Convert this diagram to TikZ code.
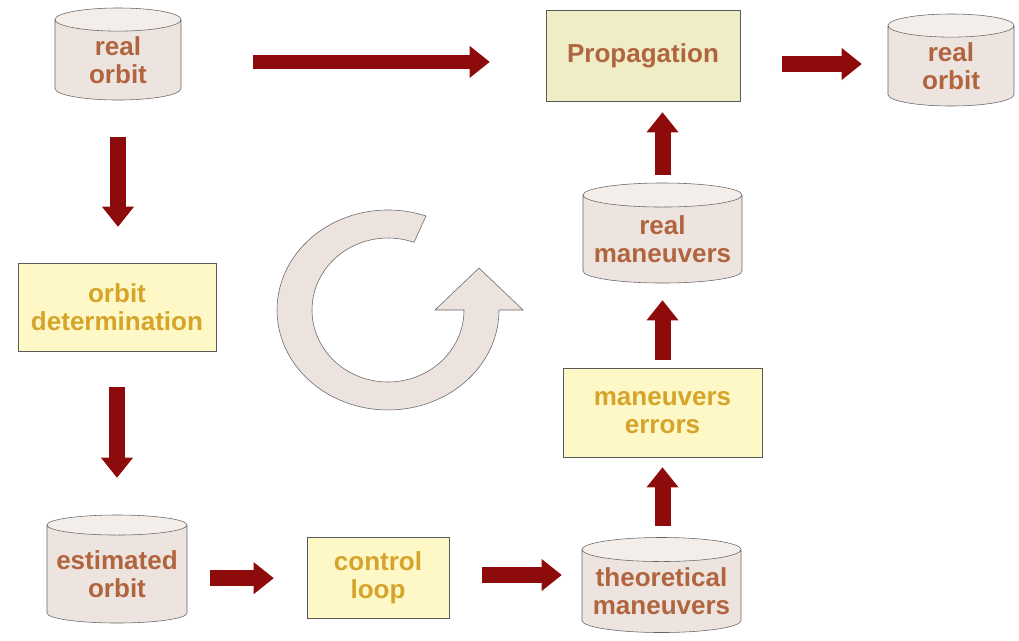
\documentclass[tikz,border=0pt]{standalone}
\usepackage{fontspec}
\setmainfont{Liberation Sans}
\usepackage{tikz}
\usetikzlibrary{shapes.geometric, arrows.meta}
\definecolor{cylbody}{HTML}{EDE4E0}
\definecolor{cylend}{HTML}{F4EEEB}
\definecolor{cyltext}{HTML}{B0653F}
\definecolor{boxfill}{HTML}{FDF8C6}
\definecolor{propfill}{HTML}{EFEDC6}
\definecolor{boxtext}{HTML}{D6A42A}
\definecolor{arrowred}{HTML}{8E0B0B}
\definecolor{loopfill}{HTML}{ECE3DE}
\tikzstyle{store} = [cylinder, shape border rotate=90, aspect=0.4, anchor=shape center, draw=gray!80!black, cylinder uses custom fill, cylinder body fill=cylbody, cylinder end fill=cylend, text=cyltext, align=center, inner sep=0pt]
\tikzstyle{process} = [rectangle, draw=gray!70!black, fill=boxfill, text=boxtext, align=center, inner sep=0pt]
\tikzstyle{flow} = [draw=arrowred, line width=0.4cm, -{Triangle[length=0.5cm, width=0.8cm, line width=0pt]}]

\begin{document}
\begin{tikzpicture}[x=0.025cm, y=0.025cm, font=\fontsize{18.5}{20}\selectfont\bfseries]

        \useasboundingbox (0,0) rectangle (1019,-640);

        % stores and process steps
        \node (orbA) [store, minimum width=3.15cm, minimum height=2.3cm] at (118,-54) {real\\orbit};
        \node (prop) [process, fill=propfill, text=cyltext, minimum width=4.85cm, minimum height=2.275cm] at (643,-55.5) {Propagation};
        \node (orbB) [store, minimum width=3.15cm, minimum height=2.3cm] at (951,-60) {real\\orbit};

        \node (detn) [process, minimum width=4.95cm, minimum height=2.2cm] at (117,-307) {orbit\\determination};
        \node (estm) [store, aspect=0.165, minimum width=3.5cm, minimum height=2.7cm] at (117,-569) {estimated\\orbit};
        \node (ctrl) [process, minimum width=3.55cm, minimum height=2.025cm] at (378,-577.5) {control\\loop};
        \node (theo) [store, aspect=0.175, minimum width=3.975cm, minimum height=2.375cm] at (661.5,-585) {theoretical\\maneuvers};

        \node (errs) [process, minimum width=4.975cm, minimum height=2.225cm] at (662.5,-412.5) {maneuvers\\errors};
        \node (rman) [store, aspect=0.175, minimum width=3.975cm, minimum height=2.5cm] at (662.5,-233) {real\\maneuvers};

        % connectors
        \draw [flow, line width=0.33cm, shorten <=1.8cm, shorten >=1.4cm] ([yshift=-0.05cm]orbA.east) -- ([yshift=-0.05cm]orbA.east -| prop.west);
        \draw [flow, shorten <=1.05cm, shorten >=0.65cm] ([yshift=-0.2125cm]prop.east) -- ([yshift=-0.2125cm]prop.east -| orbB.west);
        \draw [flow, shorten <=0.925cm, shorten >=0.9cm] (orbA.south) -- (orbA.south |- detn.north);
        \draw [flow, shorten <=0.9cm, shorten >=0.925cm] (detn.south) -- (detn.south |- estm.north);
        \draw [flow, shorten <=0.575cm, shorten >=0.825cm] ([yshift=-0.1cm]estm.east) -- ([yshift=-0.1cm]estm.east -| ctrl.west);
        \draw [flow, shorten <=0.825cm, shorten >=0.5cm] ([yshift=0.0625cm]ctrl.east) -- ([yshift=0.0625cm]ctrl.east -| theo.west);
        \draw [flow, shorten <=0.275cm, shorten >=0.25cm] (theo.north -| errs.south) -- (errs.south);
        \draw [flow, shorten <=0.2cm, shorten >=0.425cm] (errs.north) -- (errs.north |- rman.south);
        \draw [flow, shorten <=0.2cm, shorten >=0.275cm] (rman.north) -- (rman.north |- prop.south);

        % loop symbol
        \draw [fill=loopfill, draw=gray!80!black] (426,-216) arc[start angle=70, end angle=360, x radius=111, y radius=100]
            -- (523,-310) -- (479,-268) -- (435,-310) -- (464,-310)
            arc[start angle=360, end angle=70, x radius=76, y radius=72] -- cycle;

    \end{tikzpicture}
\end{document}
